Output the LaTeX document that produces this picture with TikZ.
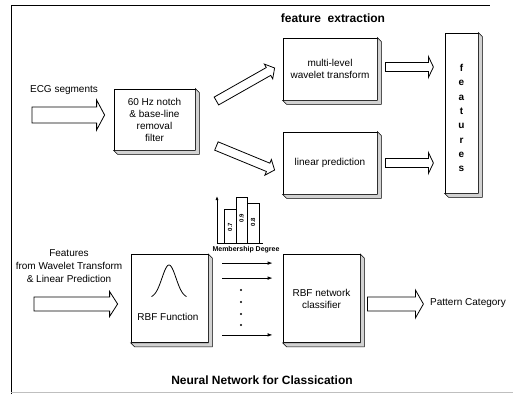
\documentclass[tikz,border=0pt]{standalone}
\usepackage{fontspec}
\setmainfont{Liberation Sans}
\usetikzlibrary{calc,arrows.meta}

\tikzset{
  slab/.style={draw=black, line width=0.8pt, fill=white, inner sep=0pt,
    align=center, font=\fontsize{10}{12}\selectfont},
  slabside/.style={draw=black, line width=0.6pt, fill=gray!35},
  hollow/.style={draw=black, line width=0.8pt, fill=white, line join=miter},
  thinarrow/.style={line width=0.8pt, -{Latex[length=5pt,width=3.6pt]}},
  heading/.style={font=\bfseries\fontsize{12}{14}\selectfont, inner sep=0pt},
  plain/.style={font=\fontsize{10}{12}\selectfont, inner sep=0pt, align=center},
  barlabel/.style={font=\bfseries\fontsize{6}{7}\selectfont, inner sep=0pt, rotate=90},
}

% extruded right/bottom faces of a 3-D looking block
\newcommand{\slabshadow}[1]{%
  \draw[slabside] (#1.north east) -- ++(4,4) |- ($(#1.south west)+(4,4)$)
    -- (#1.south west) -- (#1.south east) -- cycle;}

% hollow block arrow: tail, tip, shaft half width, head half width, head length
\newcommand{\hollowarrow}[5]{%
  \path (#1) coordinate (ha) (#2) coordinate (hb);
  \path ($(hb)!#5!(ha)$) coordinate (hm);
  \draw[hollow] ($(ha)!#3!90:(hb)$) -- ($(hm)!#3!90:(hb)$) -- ($(hm)!#4!90:(hb)$)
    -- (hb) -- ($(hm)!#4!-90:(hb)$) -- ($(hm)!#3!-90:(hb)$) -- ($(ha)!#3!-90:(hb)$) -- cycle;}

\begin{document}
\begin{tikzpicture}[x=1pt, y=-1pt]
\useasboundingbox (0,0) rectangle (513,394);

% frame
\draw[line width=0.8pt] (11,394) -- (11,5) -- (490,5);
\draw[gray!50, line width=0.8pt] (11,392) -- (513,392);

% ---------- feature extraction ----------
\node[heading] (fetitle) at (333,18) {feature\ \ extraction};

\node[plain] (ecglbl) at (64,90) {ECG segments};

\node[slab, minimum width=81pt, minimum height=61pt] (filter) at (154.5,119.5)
  {60 Hz notch\\ \& base-line\\ removal\\ filter};
\slabshadow{filter}

\node[slab, minimum width=94pt, minimum height=62pt] (wave) at (330,69)
  {multi-level\\ wavelet transform};
\slabshadow{wave}

\node[slab, minimum width=94pt, minimum height=62pt] (lin) at (330,163)
  {linear prediction};
\slabshadow{lin}

\node[slab, minimum width=33pt, minimum height=160pt] (feat) at (461.5,113) {};
\slabshadow{feat}
\node[plain, font=\bfseries\fontsize{10}{14.3}\selectfont] (featlbl) at (461.5,118)
  {f\\e\\a\\t\\u\\r\\e\\s};

\coordinate (ecgtail) at (32,115);
\hollowarrow{ecgtail}{$(filter.west)+(-9,-4.5)$}{8pt}{15pt}{8pt}
\hollowarrow{$(filter.east)+(21,-18.5)$}{$(wave.west)+(-8,-1)$}{4.5pt}{8.5pt}{7pt}
\hollowarrow{$(filter.east)+(21,26.5)$}{$(lin.west)+(-8,7)$}{4.5pt}{8.5pt}{7pt}
\hollowarrow{$(wave.east)+(8,-2)$}{$(wave.east)+(56,-2)$}{4.5pt}{10.5pt}{5pt}
\hollowarrow{$(lin.east)+(8,0)$}{$(lin.east)+(56,0)$}{4.5pt}{10.5pt}{5pt}

% ---------- classification ----------
\node[plain, font=\fontsize{10}{13}\selectfont] (inlbl) at (69,266)
  {Features\\ from Wavelet Transform\\ \& Linear Prediction};

\node[slab, minimum width=77pt, minimum height=88pt] (rbf) at (169.5,298.5) {};
\slabshadow{rbf}
\draw[line width=0.8pt] plot[domain=-17.5:17.5, samples=60, smooth]
  ({169+\x},{298-33*exp(-(\x*\x)/98)});
\node[plain] (rbflbl) at (168,317) {RBF Function};

\node[slab, minimum width=77pt, minimum height=88pt] (cls) at (321.5,298.5)
  {RBF network\\ classifier};
\slabshadow{cls}

\coordinate (intail) at (34,304);
\hollowarrow{intail}{$(rbf.west)+(-13,5.5)$}{7pt}{12.5pt}{8pt}
\hollowarrow{$(cls.east)+(7,5.5)$}{$(cls.east)+(63,5.5)$}{7pt}{14pt}{8pt}
\node[plain, anchor=west] (outlbl) at (430,303) {Pattern Category};

% parallel outputs of the RBF layer
\draw[thinarrow] ($(rbf.north east)+(14,9)$) -- ($(cls.north west)+(-10,9)$);
\draw[thinarrow] ($(rbf.north east)+(14,24)$) -- ($(cls.north west)+(-10,24)$);
\draw[thinarrow] ($(rbf.south east)+(14,-8)$) -- ($(cls.south west)+(-10,-8)$);
\foreach \yy in {290,302,314,325} \fill (241,\yy) circle (1.1pt);

% membership degree bar chart
\draw[line width=0.8pt, -{Latex[length=4pt,width=3pt]}] (217,243) -- (217,196);
\draw[line width=0.8pt] (217,243) -- (263,243);
\draw[line width=0.8pt] (224,243) |- (236,209) -- (236,243);
\draw[line width=0.8pt] (236,209) |- (247,197) -- (247,243);
\draw[line width=0.8pt] (247,203) -| (259,243);
\node[barlabel] (b1) at (230,227) {0.7};
\node[barlabel] (b2) at (241.5,218) {0.9};
\node[barlabel] (b3) at (253,222) {0.8};
\node[font=\bfseries\fontsize{7}{8}\selectfont, inner sep=0pt] (mdlbl) at (246,250)
  {Membership Degree};

\node[heading] (nntitle) at (262,380) {Neural Network for Classication};
\end{tikzpicture}
\end{document}
